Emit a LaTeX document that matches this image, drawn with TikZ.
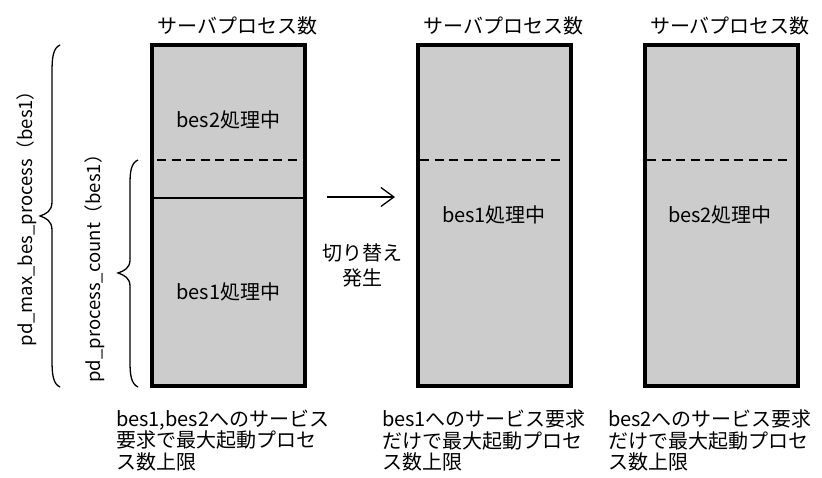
\documentclass[tikz,border=0pt]{standalone}
\usepackage{fontspec}
\setmainfont{Noto Sans CJK JP}
\usetikzlibrary{arrows.meta}
\definecolor{boxgray}{HTML}{CCCCCC}
\begin{document}
\begin{tikzpicture}[x=1pt,y=-1pt,
  every node/.style={inner sep=0pt, outer sep=0pt, text=black},
  txt/.style={font=\fontsize{20}{22}\selectfont},
  procbox/.style={draw=black, line width=4pt, fill=boxgray, minimum width=153pt, minimum height=341pt},
  title/.style={txt},
  caption/.style={font=\fontsize{20}{21.5}\selectfont, align=left, anchor=north west},
  dashline/.style={line width=1.3pt, dash pattern=on 9pt off 5.5pt},
  thinline/.style={line width=1.3pt},
  bracestyle/.style={line width=1.3pt},
  vlabel/.style={font=\fontsize{18.5}{20}\selectfont, rotate=90}]
\useasboundingbox (0,0) rectangle (822,478);

% boxes
\node[procbox] (b1) at (228.5,215.5) {};
\node[procbox] (b2) at (494.5,215.5) {};
\node[procbox] (b3) at (721,215.5) {};

% titles
\node[title] (t1) at ([xshift=9pt,yshift=19pt]b1.north) {サーバプロセス数};
\node[title] (t2) at ([xshift=9pt,yshift=19pt]b2.north) {サーバプロセス数};
\node[title] (t3) at ([xshift=9pt,yshift=19pt]b3.north) {サーバプロセス数};

% lines inside boxes
\draw[dashline] (157,160) -- (301,160);
\draw[thinline] (152,198) -- (305,198);
\draw[dashline] (420,160) -- (563,160);
\draw[dashline] (647,160) -- (790,160);

% labels inside boxes
\node[txt] (l1a) at (228.5,120) {bes2処理中};
\node[txt] (l1b) at (228.5,292) {bes1処理中};
\node[txt] (l2) at (494,215) {bes1処理中};
\node[txt] (l3) at (720,215) {bes2処理中};

% arrow
\coordinate (arrS) at (327,197);
\coordinate (arrE) at (395,197);
\draw[line width=1.3pt, -{Straight Barb[length=13pt,width=19pt,line width=1.3pt]}] (arrS) -- (arrE);
\node[font=\fontsize{20}{25}\selectfont, align=center] (sw) at (362,265) {切り替え\\発生};

% braces
\draw[bracestyle] (60,45) .. controls (53,48) and (52,58) .. (52,72) -- (52,202)
  .. controls (52,211) and (46,214) .. (40,216) .. controls (46,218) and (52,221) .. (52,230)
  -- (52,360) .. controls (52,374) and (53,384) .. (60,387);
\draw[bracestyle] (138,160) .. controls (131,163) and (130,172) .. (130,184) -- (130,260)
  .. controls (130,268) and (124,271) .. (118,273) .. controls (124,275) and (130,278) .. (130,286)
  -- (130,362) .. controls (130,374) and (131,384) .. (138,387);

% rotated labels
\node[vlabel] (vmax) at (27,214) {pd\_max\_bes\_process（bes1）};
\node[vlabel] (vcnt) at (95,264) {pd\_process\_count（bes1）};

% captions
\node[caption] (c1) at (116,410) {bes1,bes2へのサービス\\要求で最大起動プロセ\\ス数上限};
\node[caption] (c2) at (382,410) {bes1へのサービス要求\\だけで最大起動プロセ\\ス数上限};
\node[caption] (c3) at (608,410) {bes2へのサービス要求\\だけで最大起動プロセ\\ス数上限};
\end{tikzpicture}
\end{document}
